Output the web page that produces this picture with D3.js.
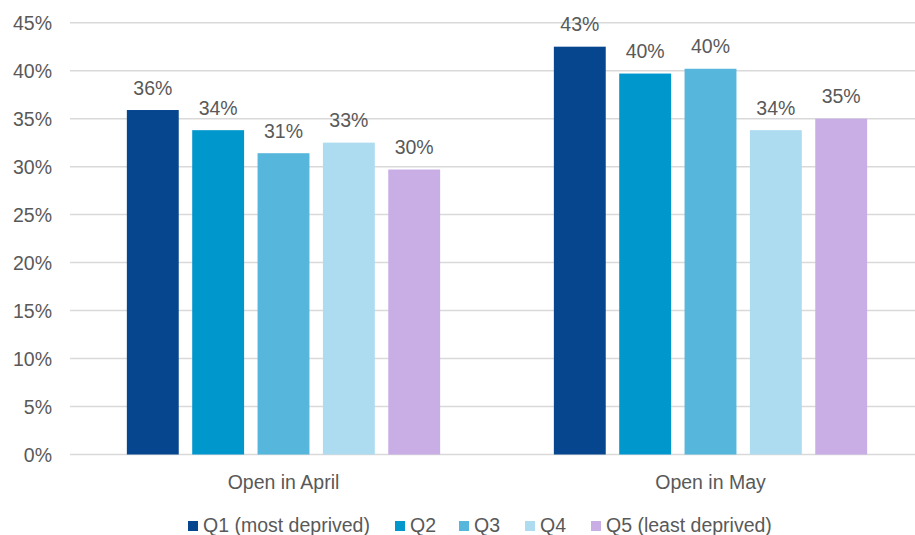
<!DOCTYPE html>
<html>
<head>
<meta charset="utf-8">
<script src="https://cdn.jsdelivr.net/npm/d3@7"></script>
<style>
html, body { margin: 0; padding: 0; background: #fff; }
svg { display: block; font-family: "Liberation Sans", Arial, sans-serif; }
</style>
</head>
<body>
<div id="chart"></div>
<script>
const categories = ["Open in April", "Open in May"];
const seriesNames = ["Q1 (most deprived)", "Q2", "Q3", "Q4", "Q5 (least deprived)"];
const seriesColors = ["#06468F", "#0097CD", "#56B6DC", "#ADDBF0", "#C9AEE6"];
const q1 = [0.359, 0.425];
const q2 = [0.338, 0.397];
const q3 = [0.314, 0.402];
const q4 = [0.325, 0.338];
const q5 = [0.297, 0.350];
const yTicks = [0, 0.05, 0.10, 0.15, 0.20, 0.25, 0.30, 0.35, 0.40, 0.45];

const seriesValues = [q1, q2, q3, q4, q5];
const W = 915, H = 535;
const svg = d3.select("#chart").append("svg").attr("width", W).attr("height", H);

const y = d3.scaleLinear().domain([0, 0.45]).range([454.5, 22.7]);
const x0 = d3.scaleBand().domain(categories).range([70, 924]).paddingInner(0).paddingOuter(0);
const x1 = d3.scaleBand().domain(seriesNames).range([0, x0.bandwidth()]).paddingInner(0.206).paddingOuter(0.87);

const textColor = "#595959";
const fs = "19.5px";

// gridlines
svg.append("g").selectAll("line").data(yTicks).join("line")
  .attr("x1", 70).attr("x2", W)
  .attr("y1", d => y(d)).attr("y2", d => y(d))
  .attr("stroke", "#D9D9D9").attr("stroke-width", 1.5);

// y tick labels
svg.append("g").selectAll("text").data(yTicks).join("text")
  .attr("x", 52).attr("y", d => y(d) + 7)
  .attr("text-anchor", "end")
  .attr("fill", textColor).style("font-size", fs)
  .text(d => d3.format(".0%")(d));

// bars
const groups = svg.append("g").selectAll("g").data(categories).join("g")
  .attr("transform", c => `translate(${x0(c)},0)`);

groups.each(function(c, ci) {
  const g = d3.select(this);
  seriesNames.forEach((s, si) => {
    const v = seriesValues[si][ci];
    g.append("rect")
      .attr("x", x1(s)).attr("width", x1.bandwidth())
      .attr("y", y(v)).attr("height", y(0) - y(v))
      .attr("fill", seriesColors[si]);
    g.append("text")
      .attr("x", x1(s) + x1.bandwidth() / 2)
      .attr("y", y(v) - 15.5)
      .attr("text-anchor", "middle")
      .attr("fill", textColor).style("font-size", fs)
      .text(d3.format(".0%")(v));
  });
});

// x axis labels
svg.append("g").selectAll("text").data(categories).join("text")
  .attr("x", c => x0(c) + x0.bandwidth() / 2)
  .attr("y", 488.5)
  .attr("text-anchor", "middle")
  .attr("fill", textColor).style("font-size", fs)
  .text(c => c);

// legend
const legendX = [188, 395, 459, 525, 591];
const leg = svg.append("g").selectAll("g").data(seriesNames).join("g")
  .attr("transform", (d, i) => `translate(${legendX[i]},0)`);
leg.append("rect").attr("x", 0).attr("y", 521).attr("width", 10).attr("height", 10)
  .attr("fill", (d, i) => seriesColors[i]);
leg.append("text").attr("x", 15).attr("y", 532)
  .attr("fill", textColor).style("font-size", fs)
  .text(d => d);
</script>
</body>
</html>
